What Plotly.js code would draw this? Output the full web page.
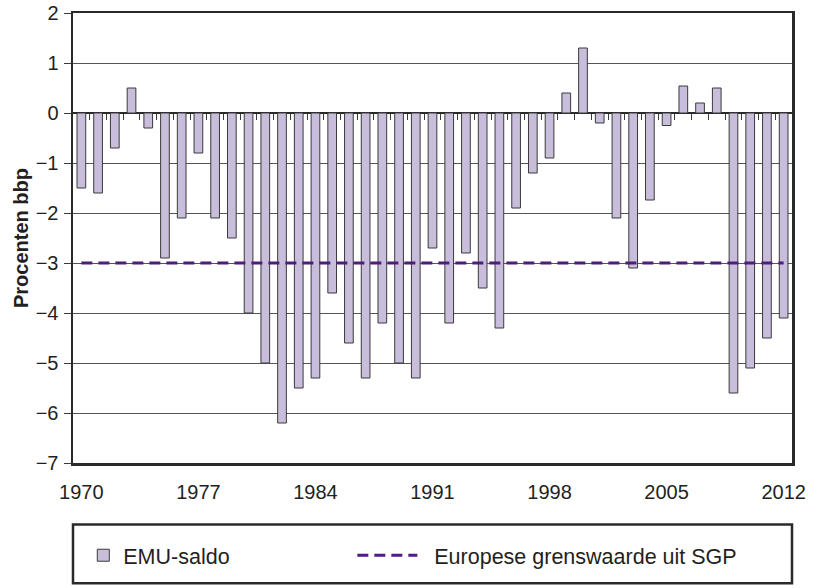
<!DOCTYPE html>
<html>
<head>
<meta charset="utf-8">
<script src="https://cdn.plot.ly/plotly-3.0.1.min.js"></script>
<style>
html,body{margin:0;padding:0;background:#fff;}
#chart{width:817px;height:588px;}
</style>
</head>
<body>
<div id="chart"></div>
<script>
var years = [1970,1971,1972,1973,1974,1975,1976,1977,1978,1979,
             1980,1981,1982,1983,1984,1985,1986,1987,1988,1989,
             1990,1991,1992,1993,1994,1995,1996,1997,1998,1999,
             2000,2001,2002,2003,2004,2005,2006,2007,2008,2009,
             2010,2011,2012];
var emuSaldo = [-1.5,-1.6,-0.7,0.5,-0.3,-2.9,-2.1,-0.8,-2.1,-2.5,
                -4.0,-5.0,-6.2,-5.5,-5.3,-3.6,-4.6,-5.3,-4.2,-5.0,
                -5.3,-2.7,-4.2,-2.8,-3.5,-4.3,-1.9,-1.2,-0.9,0.4,
                1.3,-0.2,-2.1,-3.1,-1.74,-0.25,0.54,0.2,0.5,-5.6,
                -5.1,-4.5,-4.1];
var sgpLimit = years.map(function(){ return -3; });
var tickYears = [1970,1977,1984,1991,1998,2005,2012];
var tickLabels = ['1970','1977','1984','1991','1998','2005','2012'];
var boundaries = years.slice(0, years.length - 1).map(function(y){ return y + 0.5; });
var barName = 'EMU-saldo';
var lineName = '\u00a0\u00a0Europese grenswaarde uit SGP';
var yTitle = 'Procenten bbp';

var FONT = '"Liberation Sans", Arial, Helvetica, sans-serif';
var xr = [years[0] - 0.5, years[years.length - 1] + 0.5];

var traces = [
  {
    type: 'bar', x: years, y: emuSaldo, name: barName, width: 0.52,
    marker: {color: '#c8bedb', line: {color: '#3a3a3a', width: 1}},
    legend: 'legend', hoverinfo: 'x+y'
  },
  {
    type: 'scatter', mode: 'lines', x: years, y: sgpLimit, name: lineName,
    xaxis: 'x2', yaxis: 'y',
    line: {color: '#4e1d7e', width: 3, dash: '11px,6px'},
    legend: 'legend2', hoverinfo: 'x+y'
  }
];

var layout = {
  width: 817, height: 588,
  margin: {l: 73, r: 25, t: 13, b: 122, pad: 0},
  paper_bgcolor: '#fff', plot_bgcolor: '#fff',
  font: {family: FONT, size: 20, color: '#231f20'},
  bargap: 0,
  xaxis: {
    type: 'linear', range: xr, tickmode: 'array', tickvals: tickYears, ticktext: tickLabels,
    ticks: '', showgrid: false, zeroline: false, ticklabelstandoff: 9,
    showline: true, mirror: true, linecolor: '#2a2a2a', linewidth: 2.5,
    tickfont: {family: FONT, size: 20, color: '#231f20'},
    fixedrange: true
  },
  xaxis2: {
    type: 'linear', range: xr, overlaying: 'x', anchor: 'free', position: 7/9,
    side: 'bottom', tickmode: 'array', tickvals: boundaries,
    ticks: 'outside', ticklen: 6, tickwidth: 1, tickcolor: '#3a3a3a',
    showticklabels: false, showgrid: false, zeroline: false, showline: false,
    fixedrange: true
  },
  yaxis: {
    range: [-7, 2], dtick: 1, tick0: 0,
    ticks: 'outside', ticklen: 7, tickwidth: 1, tickcolor: '#3a3a3a',
    ticklabelstandoff: 1,
    showgrid: true, gridcolor: '#555555', gridwidth: 1,
    zeroline: true, zerolinecolor: '#2a2a2a', zerolinewidth: 2.5,
    showline: true, mirror: true, linecolor: '#2a2a2a', linewidth: 2.5,
    tickfont: {family: FONT, size: 20, color: '#231f20'},
    title: {text: yTitle, font: {family: FONT, size: 20, color: '#231f20', weight: 'bold'}, standoff: 2},
    fixedrange: true
  },
  showlegend: true,
  legend: {
    x: 0.0143, xanchor: 'left', y: -0.205, yanchor: 'middle',
    orientation: 'h', bgcolor: 'rgba(0,0,0,0)', borderwidth: 0,
    itemwidth: 30, font: {family: FONT, size: 21.5, color: '#231f20'}
  },
  legend2: {
    x: 0.3885, xanchor: 'left', y: -0.205, yanchor: 'middle',
    orientation: 'h', bgcolor: 'rgba(0,0,0,0)', borderwidth: 0,
    itemwidth: 60, font: {family: FONT, size: 21.5, color: '#231f20'}
  },
  shapes: [
    {type: 'rect', xref: 'paper', yref: 'paper', x0: 0, x1: 1, y0: -0.2671, y1: -0.1369,
     line: {color: '#2a2a2a', width: 2.5}, fillcolor: 'rgba(0,0,0,0)'}
  ]
};

Plotly.newPlot('chart', traces, layout, {displayModeBar: false, staticPlot: true});
</script>
</body>
</html>
